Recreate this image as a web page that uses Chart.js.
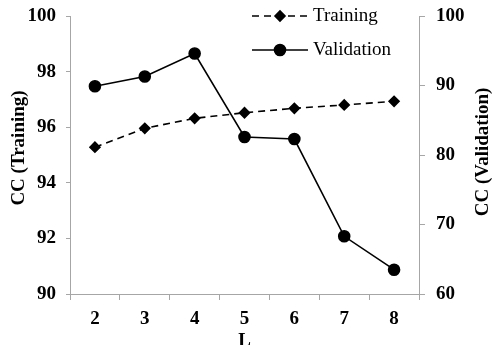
<!DOCTYPE html>
<html>
<head>
<meta charset="utf-8">
<script src="https://cdn.jsdelivr.net/npm/chart.js@4/dist/chart.umd.min.js"></script>
<style>
  html, body { margin: 0; padding: 0; background: #fff; }
  #wrap { width: 493px; height: 345px; position: relative; }
</style>
</head>
<body>
<div id="wrap"><canvas id="c" width="493" height="345"></canvas></div>
<script>
// Number of layers L against correlation coefficient
const categories = ['2', '3', '4', '5', '6', '7', '8'];
const trainingCC = [95.28, 95.96, 96.32, 96.52, 96.68, 96.80, 96.93];
const validationCC = [89.9, 91.3, 94.6, 82.6, 82.3, 68.3, 63.5];
const leftTicks = [90, 92, 94, 96, 98, 100];
const rightTicks = [60, 70, 80, 90, 100];
const leftTitle = 'CC (Training)';
const rightTitle = 'CC (Validation)';

const SERIF = '"Liberation Serif", "Times New Roman", serif';
const AXIS_GREY = '#a6a6a6';
const tickFont = { family: SERIF, size: 19, weight: 'bold' };
// compact line height keeps the end labels from pushing the plot area inwards
const yTickFont = { family: SERIF, size: 19, weight: 'bold', lineHeight: 0.5 };
const titleFont = { family: SERIF, size: 19, weight: 'bold' };

function drawVerticalTitle(ctx, text, x, y) {
  ctx.save();
  ctx.translate(x, y);
  ctx.rotate(-Math.PI / 2);
  ctx.font = 'bold 19px ' + SERIF;
  ctx.textAlign = 'center';
  ctx.textBaseline = 'middle';
  ctx.fillStyle = '#000';
  ctx.fillText(text, 0, 0);
  ctx.restore();
}

// Two-row legend in the upper right, drawn with each series' own line and marker style,
// plus both y-axis titles reading bottom-to-top
const decorPlugin = {
  id: 'cornerLegend',
  afterDraw(chart) {
    const ctx = chart.ctx;
    const rows = chart.data.datasets.map((ds, i) => ({ ds, y: 16 + i * 34 }));
    ctx.save();
    rows.forEach(({ ds, y }) => {
      const x0 = 252, x1 = 308, xm = 280;
      ctx.strokeStyle = ds.borderColor;
      ctx.lineWidth = ds.borderWidth;
      ctx.setLineDash(ds.borderDash || []);
      ctx.beginPath();
      ctx.moveTo(x0, y);
      ctx.lineTo(x1, y);
      ctx.stroke();
      ctx.setLineDash([]);
      Chart.helpers.drawPoint(ctx, {
        pointStyle: ds.pointStyle,
        radius: ds.pointRadius,
        borderWidth: 1,
        rotation: 0
      }, xm, y);
      ctx.fillStyle = '#000';
      ctx.fill();
      ctx.font = '19px ' + SERIF;
      ctx.textBaseline = 'middle';
      ctx.textAlign = 'left';
      ctx.fillText(ds.label, 313, y);
    });
    ctx.restore();

    drawVerticalTitle(ctx, leftTitle, 19, 148);
    drawVerticalTitle(ctx, rightTitle, 483, 152);
  }
};

new Chart(document.getElementById('c'), {
  type: 'line',
  data: {
    labels: categories,
    datasets: [
      {
        label: 'Training',
        data: trainingCC,
        yAxisID: 'yTrain',
        borderColor: '#000',
        backgroundColor: '#000',
        borderWidth: 1.6,
        borderDash: [7, 5],
        pointStyle: 'rectRot',
        pointRadius: 5,
        pointBackgroundColor: '#000',
        pointBorderColor: '#000',
        tension: 0
      },
      {
        label: 'Validation',
        data: validationCC,
        yAxisID: 'yVal',
        borderColor: '#000',
        backgroundColor: '#000',
        borderWidth: 1.6,
        pointStyle: 'circle',
        pointRadius: 5.5,
        pointBackgroundColor: '#000',
        pointBorderColor: '#000',
        tension: 0
      }
    ]
  },
  options: {
    responsive: false,
    animation: false,
    layout: { padding: { top: 16, left: 0, right: 0, bottom: 0 } },
    plugins: { legend: { display: false }, tooltip: { enabled: false } },
    scales: {
      x: {
        type: 'category',
        offset: true,
        grid: { display: true, drawOnChartArea: false, drawTicks: true, tickLength: 6, color: AXIS_GREY, offset: true },
        border: { display: true, color: AXIS_GREY, width: 1 },
        ticks: { font: tickFont, color: '#000', padding: 8, maxRotation: 0 },
        title: { display: true, text: 'L', font: titleFont, color: '#000', padding: { top: 0, bottom: -7 } },
        afterFit(scale) { scale.height = 51; }
      },
      yTrain: {
        type: 'linear',
        position: 'left',
        min: 90,
        max: 100,
        afterBuildTicks(scale) { scale.ticks = leftTicks.map(v => ({ value: v })); },
        grid: { display: true, drawOnChartArea: false, drawTicks: true, tickLength: 4, color: AXIS_GREY },
        border: { display: true, color: AXIS_GREY, width: 1 },
        ticks: { font: yTickFont, color: '#000', padding: 10 },
        afterFit(scale) { scale.width = 70; }
      },
      yVal: {
        type: 'linear',
        position: 'right',
        min: 60,
        max: 100,
        afterBuildTicks(scale) { scale.ticks = rightTicks.map(v => ({ value: v })); },
        grid: { display: true, drawOnChartArea: false, drawTicks: true, tickLength: 6, color: AXIS_GREY },
        border: { display: true, color: AXIS_GREY, width: 1 },
        ticks: { font: yTickFont, color: '#000', padding: 11 },
        afterFit(scale) { scale.width = 74; }
      }
    }
  },
  plugins: [decorPlugin]
});
</script>
</body>
</html>
